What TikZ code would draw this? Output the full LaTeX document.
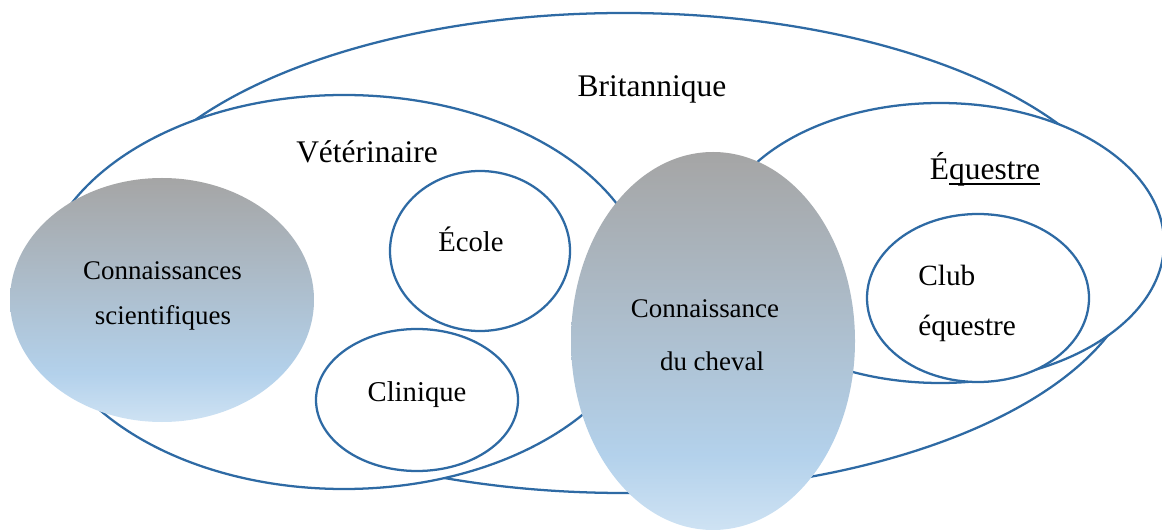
\documentclass[tikz,border=0pt]{standalone}
\usepackage{fontspec}
\setmainfont{Liberation Serif}
\usetikzlibrary{shapes.geometric}
\definecolor{lineblue}{RGB}{46,106,164}
\definecolor{cgray}{RGB}{165,165,165}
\definecolor{cblue}{RGB}{179,209,235}
\definecolor{cbot}{RGB}{206,226,243}
\pgfdeclareverticalshading{kshade}{100bp}{color(0bp)=(cbot); color(25bp)=(cbot); color(35bp)=(cblue); color(75bp)=(cgray); color(100bp)=(cgray)}
\newcommand\ulword[1]{\setbox0\hbox{#1}\rlap{\rule[-3.6pt]{\wd0}{1.1pt}}\box0}
\begin{document}
\begin{tikzpicture}[x=0.75pt,y=-0.75pt,
  ring/.style={ellipse, draw=lineblue, line width=1.7pt, fill=white, inner sep=0pt, outer sep=0pt},
  knob/.style={ellipse, shading=kshade, draw=none, inner sep=0pt, outer sep=0pt},
  bigtext/.style={anchor=base, inner sep=0pt, font=\fontsize{23.6pt}{28pt}\selectfont},
  midtext/.style={anchor=base, inner sep=0pt, font=\fontsize{21.5pt}{26pt}\selectfont},
  clubtext/.style={anchor=base west, inner sep=0pt, font=\fontsize{22pt}{26pt}\selectfont},
  smalltext/.style={anchor=base, inner sep=0pt, font=\fontsize{20.2pt}{24pt}\selectfont}]
\useasboundingbox (0,0) rectangle (1162,530);
% outlined ellipses
\node[ring, minimum width=772.5pt, minimum height=360pt] (brit) at (624,253) {};
\node[ring, minimum width=457.5pt, minimum height=295.5pt] (vet) at (344,292) {};
\node[ring, minimum width=336pt, minimum height=210pt] (equ) at (940,243) {};
\node[ring, minimum width=135pt, minimum height=120pt] (ecole) at (480,251) {};
\node[ring, minimum width=151.5pt, minimum height=106.5pt] (clin) at (417,400) {};
\node[ring, minimum width=166.5pt, minimum height=126pt] (club) at (978,298) {};
% shaded ellipses
\node[knob, minimum width=228pt, minimum height=183pt] (sci) at (162,300) {};
\node[knob, minimum width=213pt, minimum height=283.5pt] (chev) at (713,341) {};
% labels
\node[bigtext] (tbrit) at (652,97) {Britannique};
\node[bigtext] (tvet) at (367,163) {Vétérinaire};
\node[bigtext] (tequ) at (985,180) {É\ulword{questre}};
\node[midtext] (tecole) at (471,252) {École};
\node[midtext] (tclin) at (417,402) {Clinique};
\node[smalltext] (tsci1) at (162.5,280) {Connaissances};
\node[smalltext] (tsci2) at (163,325) {scientifiques};
\node[smalltext] (tch1) at (705,318) {Connaissance};
\node[smalltext] (tch2) at (712,371) {du cheval};
\node[clubtext] (tclub1) at (918,286) {Club};
\node[clubtext] (tclub2) at (918,336) {équestre};
\end{tikzpicture}
\end{document}
